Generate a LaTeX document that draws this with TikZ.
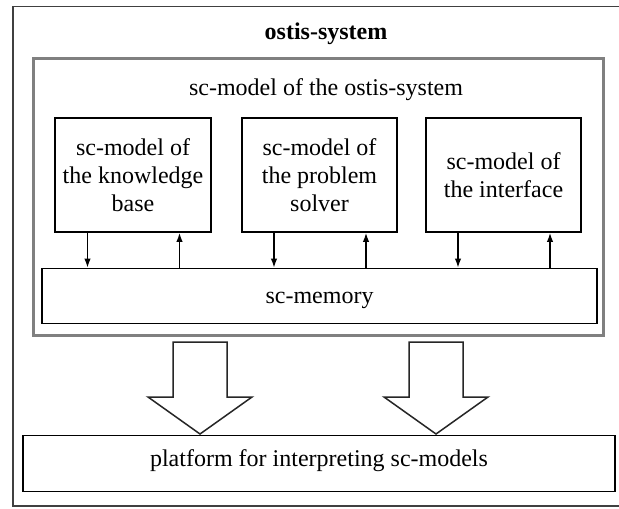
\documentclass[12pt,tikz,border=0pt]{standalone}
\usepackage{fontspec}
\setmainfont{Liberation Serif}
\usetikzlibrary{arrows.meta}
\begin{document}
\begin{tikzpicture}[x=0.5pt,y=-0.5pt,
  every node/.append style={font=\fontsize{12pt}{14pt}\selectfont},
  outerbox/.style={draw=black!75, line width=0.9pt},
  sysframe/.style={draw=black!50, line width=1.8pt},
  unit/.style={draw, line width=0.8pt, align=center, inner sep=0pt},
  sarrow/.style={line width=0.75pt, -{Latex[length=4.5pt,width=3.2pt]}},
  hollow/.style={draw=black!85, line width=0.75pt, fill=white, line join=miter},
  blockdown/.pic={\draw[hollow] (-27,0) -- (-27,55) -- (-52,55) -- (0,92)
                    -- (52,55) -- (27,55) -- (27,0) -- cycle;}
]
% page area; the outer frame runs past the right edge
\clip (0,0) rectangle (619,508);
\fill[white] (0,0) rectangle (619,508);
\draw[outerbox] (13,6.5) rectangle (640,506);
\node[anchor=base, font={\fontsize{12pt}{14pt}\selectfont\bfseries}] (title) at (326,40) {ostis-system};

% sc-model of the whole system
\node[sysframe, minimum width=285pt, minimum height=138.5pt, inner sep=0pt] (sys) at (318.5,197) {};
\node[anchor=base] (systitle) at (326,96) {sc-model of the ostis-system};

% component models
\node[unit, minimum width=78pt, minimum height=57pt] (kb) at (133,175) {sc-model of\\the knowledge\\base};
\node[unit, minimum width=77.5pt, minimum height=57pt] (ps) at (319.5,175) {sc-model of\\the problem\\solver};
\node[unit, minimum width=77.5pt, minimum height=57pt] (ui) at (503.5,175) {sc-model of\\the interface};

\node[unit, minimum width=277.5pt, minimum height=27.5pt, text height=9pt, text depth=2pt] (mem) at (319.5,296) {sc-memory};

% exchange between the models and sc-memory
\foreach \b in {kb,ps,ui}{
  \draw[sarrow] ([xshift=-22.75pt]\b.south) -- ([xshift=-22.75pt]\b.south |- mem.north);
  \draw[sarrow] ([xshift=23.25pt]\b.south |- mem.north) -- ([xshift=23.25pt]\b.south);
}

% platform
\node[unit, minimum width=296pt, minimum height=28pt, text height=8.5pt, text depth=5.5pt] (plat) at (319,463.5) {platform for interpreting sc-models};
\pic at (200,342) {blockdown};
\pic at (436,342) {blockdown};
\end{tikzpicture}
\end{document}
